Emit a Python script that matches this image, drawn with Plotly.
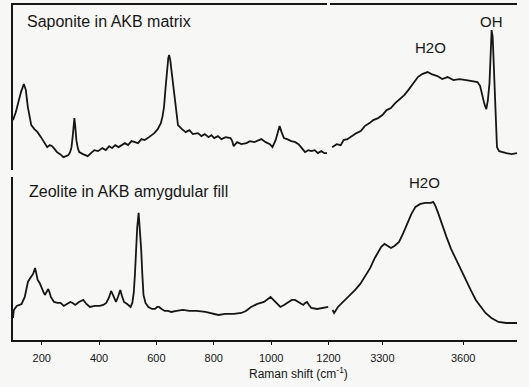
import plotly.graph_objects as go

# Raman spectra, broken wavenumber axis (100-1200 and 3100-3800 cm^-1)
# Saponite in AKB matrix: low-wavenumber region
sap_low_w = [100, 110, 118, 128, 138, 145, 152, 164, 175, 186,
             198, 210, 220, 229, 237, 246, 254, 265, 277, 286,
             294, 300, 305, 310, 315, 318, 322, 327, 332, 345,
             362, 373, 385, 398, 413, 425, 437, 447, 458, 470,
             481, 492, 503, 515, 527, 538, 550, 561, 572, 585,
             595, 607, 618, 624, 629, 635, 640, 644, 647, 651,
             655, 663, 670, 678, 692, 705, 718, 730, 748, 760,
             772, 785, 795, 805, 818, 830, 845, 862, 868, 873,
             885, 900, 918, 930, 945, 958, 970, 985, 1000, 1009,
             1020, 1028, 1034, 1041, 1049, 1060, 1075, 1089, 1100, 1112,
             1123, 1135, 1145, 1157, 1168, 1180, 1191, 1200]
sap_low_i = [50, 58, 67, 78, 86, 80, 63, 45, 41, 38,
             33, 27, 23, 25, 24, 21, 18, 16, 13, 14,
             15, 18, 23, 36, 52, 44, 30, 22, 18, 16,
             14, 17, 20, 19, 22, 20, 24, 22, 25, 23,
             25, 27, 25, 29, 28, 27, 31, 30, 32, 35,
             37, 41, 47, 54, 63, 84, 103, 112, 115, 110,
             100, 80, 60, 45, 41, 38, 40, 36, 37, 34,
             36, 33, 35, 32, 34, 31, 33, 32, 29, 24,
             28, 26, 27, 29, 28, 30, 31, 28, 26, 23,
             30, 38, 44, 38, 32, 31, 29, 28, 26, 22,
             18, 20, 19, 20, 17, 19, 17, 17]

# Saponite in AKB matrix: O-H stretching region
sap_high_w = [3108, 3125, 3140, 3151, 3165, 3180, 3199, 3215, 3230, 3248,
              3262, 3280, 3296, 3312, 3328, 3344, 3360, 3378, 3393, 3410,
              3429, 3445, 3465, 3480, 3502, 3520, 3540, 3562, 3585, 3610,
              3630, 3652, 3662, 3671, 3678, 3685, 3691, 3697, 3701, 3705,
              3709, 3713, 3717, 3721, 3725, 3733, 3743, 3760, 3780, 3800]
sap_high_i = [23, 26, 25, 30, 31, 34, 37, 39, 44, 47,
              50, 52, 55, 60, 62, 67, 71, 75, 80, 86,
              93, 96, 98, 96, 94, 91, 93, 90, 91, 90,
              89, 88, 84, 73, 66, 61, 70, 87, 115, 140,
              133, 105, 70, 42, 23, 19, 18, 17, 16, 17]

# Zeolite in AKB amygdular fill: low-wavenumber region
zeo_low_w = [100, 103, 113, 122, 130, 141, 147, 152, 158, 164,
             170, 177, 181, 186, 193, 200, 206, 211, 217, 223,
             228, 232, 243, 255, 266, 277, 288, 300, 308, 317,
             330, 345, 356, 368, 385, 402, 415, 425, 434, 442,
             450, 459, 466, 474, 480, 487, 498, 510, 516, 521,
             525, 529, 533, 538, 542, 547, 551, 555, 562, 572,
             585, 595, 603, 609, 618, 629, 640, 652, 670, 692,
             715, 740, 771, 795, 816, 840, 870, 896, 912, 930,
             952, 975, 990, 998, 1008, 1020, 1032, 1045, 1060, 1072,
             1083, 1095, 1105, 1112, 1119, 1125, 1132, 1140, 1160, 1180,
             1200]
zeo_low_i = [22, 30, 34, 35, 36, 43, 52, 58, 61, 63,
             66, 72, 66, 60, 57, 53, 48, 45, 48, 51,
             47, 43, 38, 37, 37, 34, 36, 38, 37, 35,
             38, 40, 36, 33, 34, 34, 35, 37, 42, 49,
             44, 38, 43, 50, 44, 38, 36, 33, 37, 47,
             65, 90, 112, 127, 112, 90, 65, 45, 37, 33,
             31, 31, 33, 33, 31, 29, 29, 28, 29, 30,
             29, 29, 28, 26, 25, 26, 26, 27, 29, 33,
             36, 38, 41, 43, 40, 36, 33, 35, 38, 40,
             40, 38, 36, 35, 37, 38, 35, 32, 31, 32,
             33]

# Zeolite in AKB amygdular fill: O-H stretching region
zeo_high_w = [3115, 3121, 3135, 3151, 3175, 3199, 3218, 3235, 3255, 3272,
              3285, 3296, 3308, 3318, 3332, 3345, 3362, 3378, 3393, 3408,
              3423, 3441, 3460, 3480, 3489, 3497, 3507, 3522, 3538, 3555,
              3574, 3592, 3610, 3628, 3647, 3665, 3683, 3705, 3731, 3760,
              3780, 3800]
zeo_high_i = [30, 27, 33, 37, 43, 50, 56, 63, 72, 82,
              88, 93, 96, 94, 92, 94, 98, 107, 117, 126,
              133, 136, 137, 137, 138, 134, 127, 115, 103, 91,
              80, 70, 60, 50, 40, 33, 27, 22, 18, 17,
              17, 17]

low_ticks = [200, 400, 600, 800, 1000, 1200]
high_ticks = [3300, 3600]

sample_labels = ["Saponite in AKB matrix", "Zeolite in AKB amygdular fill"]
band_labels = ["H2O", "OH", "H2O"]

INK = "#161616"
FONT = "Liberation Sans, Arial, sans-serif"
line_style = dict(color=INK, width=1.8)

fig = go.Figure()
# top panel (saponite): x3/x4 with y2 ; bottom panel (zeolite): x/x2 with y
fig.add_trace(go.Scatter(x=sap_low_w, y=sap_low_i, mode="lines", line=line_style,
                         xaxis="x3", yaxis="y2", showlegend=False))
fig.add_trace(go.Scatter(x=sap_high_w, y=sap_high_i, mode="lines", line=line_style,
                         xaxis="x4", yaxis="y2", showlegend=False))
fig.add_trace(go.Scatter(x=zeo_low_w, y=zeo_low_i, mode="lines", line=line_style,
                         xaxis="x", yaxis="y", showlegend=False))
fig.add_trace(go.Scatter(x=zeo_high_w, y=zeo_high_i, mode="lines", line=line_style,
                         xaxis="x2", yaxis="y", showlegend=False))

tick_font = dict(family=FONT, size=11, color=INK)
bottom_axis = dict(showline=True, linecolor=INK, linewidth=1.5, ticks="outside",
                   ticklen=3, tickcolor=INK, tickwidth=1, showgrid=False,
                   zeroline=False, tickfont=tick_font, ticklabelstandoff=4,
                   fixedrange=True)
top_axis = dict(showline=True, linecolor=INK, linewidth=1.5, side="top",
                showticklabels=False, ticks="", showgrid=False, zeroline=False)

split = 0.626
fig.update_layout(
    width=529, height=387,
    margin=dict(l=13, r=0, t=5, b=47),
    paper_bgcolor="#f7f7f5", plot_bgcolor="#f7f7f5",
    xaxis=dict(domain=[0, split], range=[100, 1200], anchor="y",
               tickvals=low_ticks, **bottom_axis),
    xaxis2=dict(domain=[split, 1], range=[3100, 3800], anchor="y",
                tickvals=high_ticks, **bottom_axis),
    xaxis3=dict(domain=[0, split - 0.003], range=[100, 1200], anchor="y2", **top_axis),
    xaxis4=dict(domain=[split + 0.003, 1], range=[3100, 3800], anchor="y2", **top_axis),
    yaxis=dict(domain=[0, 0.487], range=[0, 163], anchor="x", showline=True,
               linecolor=INK, linewidth=1.5, showticklabels=False, ticks="",
               showgrid=False, zeroline=False),
    yaxis2=dict(domain=[0.507, 1], range=[0, 165], anchor="x3", showline=True,
                linecolor=INK, linewidth=1.5, showticklabels=False, ticks="",
                showgrid=False, zeroline=False),
)

label_font = dict(family=FONT, size=16, color=INK)
band_font = dict(family=FONT, size=15, color=INK)
annotations = [
    dict(text=sample_labels[0], x=0.023, y=0.952, xanchor="left", yanchor="middle",
         font=label_font),
    dict(text=sample_labels[1], x=0.027, y=0.442, xanchor="left", yanchor="middle",
         font=label_font),
    dict(text=band_labels[0], x=0.8275, y=0.872, xanchor="center", yanchor="middle",
         font=band_font),
    dict(text=band_labels[1], x=0.9496, y=0.952, xanchor="center", yanchor="middle",
         font=band_font),
    dict(text=band_labels[2], x=0.816, y=0.469, xanchor="center", yanchor="middle",
         font=band_font),
    dict(text="Raman shift (cm<sup>-1</sup>)", x=0.566, y=-0.0985, xanchor="center",
         yanchor="middle", font=dict(family=FONT, size=12, color=INK)),
]
for a in annotations:
    a.update(xref="paper", yref="paper", showarrow=False)
fig.update_layout(annotations=annotations)

fig.write_html("out.html")
